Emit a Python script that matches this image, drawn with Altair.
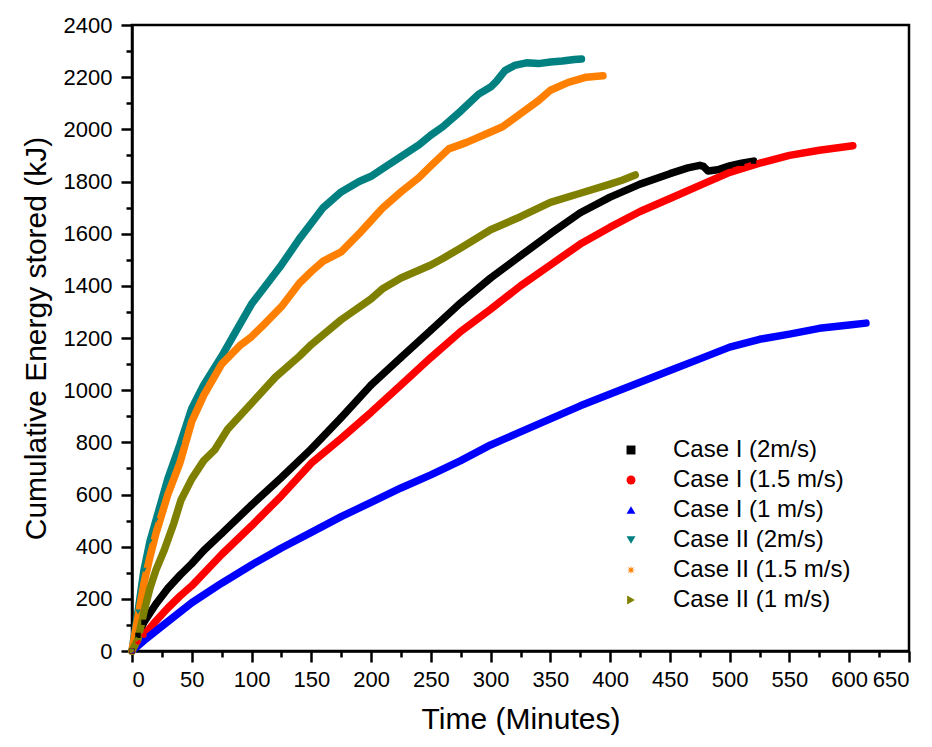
import math
import altair as alt
import pandas as pd

# ---- data ----
series = ["Case I (2m/s)", "Case I (1.5 m/s)", "Case I (1 m/s)",
          "Case II (2m/s)", "Case II (1.5 m/s)", "Case II (1 m/s)"]
colors = ["#000000", "#FF0000", "#0000FF", "#008080", "#FF8000", "#808000"]

c1_2_t = [0, 5, 10, 20, 30, 40, 50, 60, 75, 100, 125, 150, 175, 200, 225, 250, 275, 300, 325, 350, 375, 400, 425, 450, 465, 475, 478, 482, 490, 500, 510, 520]
c1_2_e = [0, 60, 110, 180, 240, 290, 335, 385, 450, 560, 665, 775, 895, 1020, 1125, 1230, 1335, 1430, 1515, 1600, 1680, 1740, 1790, 1830, 1852, 1862, 1858, 1840, 1845, 1860, 1870, 1878]

c1_15_t = [0, 5, 10, 20, 30, 40, 50, 75, 100, 125, 150, 175, 200, 225, 250, 275, 300, 325, 350, 375, 400, 425, 450, 475, 500, 525, 550, 575, 600, 603]
c1_15_e = [0, 35, 60, 115, 165, 210, 250, 370, 480, 595, 720, 815, 915, 1020, 1125, 1225, 1310, 1400, 1480, 1560, 1625, 1685, 1735, 1785, 1835, 1870, 1900, 1920, 1935, 1937]

c1_1_t = [0, 10, 25, 50, 75, 100, 125, 150, 175, 200, 225, 250, 275, 300, 325, 350, 375, 400, 425, 450, 475, 500, 525, 550, 575, 600, 614]
c1_1_e = [0, 40, 95, 185, 260, 330, 395, 455, 515, 570, 625, 675, 730, 790, 840, 890, 940, 985, 1030, 1075, 1120, 1165, 1195, 1215, 1237, 1250, 1257]

c2_2_t = [0, 5, 10, 15, 20, 30, 40, 50, 60, 75, 90, 100, 110, 125, 140, 150, 160, 175, 190, 200, 210, 225, 240, 250, 260, 275, 290, 300, 305, 312, 320, 330, 340, 350, 360, 370, 376]
c2_2_e = [0, 150, 310, 420, 500, 660, 790, 930, 1020, 1130, 1250, 1330, 1390, 1480, 1580, 1640, 1700, 1760, 1800, 1820, 1850, 1895, 1940, 1978, 2010, 2070, 2135, 2162, 2185, 2225, 2245, 2255, 2252, 2258, 2262, 2268, 2270]

c2_15_t = [0, 5, 10, 15, 20, 30, 40, 50, 60, 75, 90, 100, 110, 125, 140, 150, 160, 175, 190, 200, 210, 225, 240, 250, 265, 280, 300, 310, 325, 340, 350, 365, 380, 394]
c2_15_e = [0, 130, 260, 360, 450, 600, 720, 880, 980, 1100, 1170, 1205, 1250, 1320, 1410, 1455, 1495, 1530, 1600, 1650, 1700, 1760, 1815, 1860, 1925, 1950, 1990, 2010, 2060, 2110, 2150, 2180, 2200, 2205]

c2_1_t = [0, 5, 10, 15, 20, 27, 35, 41, 50, 60, 69, 80, 100, 120, 140, 150, 175, 200, 210, 225, 250, 260, 275, 300, 325, 350, 375, 400, 410, 421]
c2_1_e = [0, 45, 150, 240, 310, 387, 490, 579, 660, 730, 770, 850, 950, 1050, 1130, 1175, 1270, 1350, 1390, 1430, 1480, 1505, 1545, 1615, 1665, 1720, 1755, 1790, 1805, 1825]

x_ticks = list(range(0, 651, 25))
y_ticks = list(range(0, 2401, 100))

times = [c1_2_t, c1_15_t, c1_1_t, c2_2_t, c2_15_t, c2_1_t]
energies = [c1_2_e, c1_15_e, c1_1_e, c2_2_e, c2_15_e, c2_1_e]

rows = []
for s, ts, es in zip(series, times, energies):
    for t, e in zip(ts, es):
        rows.append({"series": s, "t": t, "e": e})
df = pd.DataFrame(rows)

# 8-armed asterisk-like star for the orange series
pts = []
for k in range(16):
    r = 1.0 if k % 2 == 0 else 0.35
    a = math.pi * k / 8
    pts.append(f"{r*math.cos(a):.3f},{r*math.sin(a):.3f}")
asterisk = "M" + "L".join(pts) + "Z"
shapes = ["square", "circle", "triangle-up", "triangle-down", asterisk, "triangle-right"]

x_axis = alt.Axis(
    values=x_ticks, format="d", labelOverlap=False,
    labelExpr="datum.value % 50 === 0 ? datum.label : ''",
    tickSize={"condition": {"test": "datum.value % 50 === 0", "value": 11}, "value": 6},
    title="Time (Minutes)",
    titlePadding=14,
    labelPadding=7,
    grid=False,
)
y_axis = alt.Axis(
    values=y_ticks, format="d", labelOverlap=False,
    labelExpr="datum.value % 200 === 0 ? datum.label : ''",
    tickSize={"condition": {"test": "datum.value % 200 === 0", "value": 11}, "value": 6},
    title="Cumulative Energy stored (kJ)",
    titlePadding=12,
    labelPadding=9,
    grid=False,
)

xs = alt.X("t:Q", scale=alt.Scale(domain=[0, 650], nice=False, zero=False), axis=x_axis)
ys = alt.Y("e:Q", scale=alt.Scale(domain=[0, 2400], nice=False), axis=y_axis)

legend = alt.Legend(title=None, orient="none", legendX=487, legendY=413,
                    labelFontSize=24, labelFont="Liberation Sans", labelLimit=400,
                    labelColor="black", symbolSize=80, rowPadding=6,
                    labelOffset=30, padding=0, symbolStrokeWidth=0)
color = alt.Color("series:N", scale=alt.Scale(domain=series, range=colors), legend=legend)
shape = alt.Shape("series:N", scale=alt.Scale(domain=series, range=shapes), legend=legend)

layers = []
for i, s in enumerate(series):
    base = alt.Chart(df).transform_filter(alt.datum.series == s)
    layers.append(base.mark_line(strokeWidth=7.5, strokeCap="round", strokeJoin="round").encode(
        x=xs, y=ys, color=color))

legend_pts = alt.Chart(df).mark_point(filled=True, size=28, opacity=1).encode(
    x=xs, y=ys, color=color, shape=shape,
)

chart = alt.layer(*layers, legend_pts).properties(
    width=777, height=626,
    autosize=alt.AutoSizeParams(type="none"),
    padding={"left": 124, "top": 17, "right": 15, "bottom": 88},
).configure_view(
    stroke="black", strokeWidth=2.5
).configure_axis(
    labelFont="Liberation Sans", titleFont="Liberation Sans",
    labelFontSize=22, titleFontSize=30, titleFontWeight="normal",
    labelColor="black", titleColor="black",
    domainColor="black", domainWidth=2.5, tickColor="black", tickWidth=2.5,
)

chart.save("out.html", embed_options={"renderer": "svg", "actions": False})
